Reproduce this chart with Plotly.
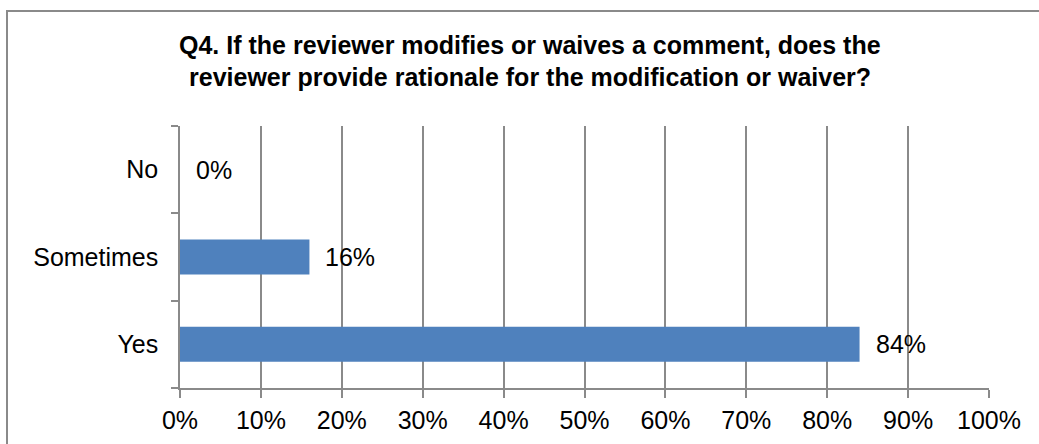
import plotly.graph_objects as go

categories = ["Yes", "Sometimes", "No"]
values = [84, 16, 0]
labels = ["84%", "16%", "0%"]
x_ticks = [0, 10, 20, 30, 40, 50, 60, 70, 80, 90, 100]
x_tick_labels = [f"{v}%" for v in x_ticks]
title_lines = ["Q4. If the reviewer modifies or waives a comment, does the",
               "reviewer provide rationale for the modification or waiver?"]

W, H = 1039, 444
L, R, T, B = 180, 50, 126, 56
pw, ph = W - L - R, H - T - B

def px_x(p):
    return (p - L) / pw

def px_y(p):
    return (H - B - p) / ph

font = "Liberation Sans, Arial, sans-serif"
grid = "#8a8a8a"

fig = go.Figure()
fig.add_trace(go.Bar(
    y=categories, x=values, orientation="h",
    marker=dict(color="#4F81BD", line=dict(width=0)),
    width=0.4,
    hoverinfo="skip",
))

for c, v, t in zip(categories, values, labels):
    fig.add_annotation(x=v, y=c, xref="x", yref="y", text=t, showarrow=False,
                       xanchor="left", xshift=14,
                       font=dict(family=font, size=25, color="black"))

for i, line in enumerate(title_lines):
    fig.add_annotation(x=px_x(530), y=px_y(45 + 32 * i), xref="paper", yref="paper",
                       text=f"<b>{line}</b>", showarrow=False,
                       xanchor="center", yanchor="middle",
                       font=dict(family=font, size=25, color="black"))

fig.add_shape(type="rect", xref="paper", yref="paper",
              x0=px_x(7), x1=px_x(1050), y0=px_y(460), y1=px_y(11),
              line=dict(color="#8a8a8a", width=2), fillcolor="rgba(0,0,0,0)",
              layer="below")

fig.update_layout(
    width=W, height=H,
    margin=dict(l=L, r=R, t=T, b=B, pad=0, autoexpand=False),
    paper_bgcolor="white", plot_bgcolor="white",
    showlegend=False,
    font=dict(family=font, size=25, color="black"),
    xaxis=dict(range=[0, 100], tickvals=x_ticks, ticktext=x_tick_labels,
               showgrid=True, gridcolor=grid, gridwidth=1.5,
               showline=True, linecolor=grid, linewidth=1.5,
               ticks="outside", ticklen=8, tickcolor=grid, tickwidth=1.5,
               ticklabelstandoff=1, zeroline=False, fixedrange=True,
               automargin=False),
    yaxis=dict(categoryorder="array", categoryarray=categories, range=[-0.5, 2.5],
               showgrid=False, showline=True, linecolor=grid, linewidth=1.5,
               ticks="outside", ticklen=7, tickcolor=grid, tickwidth=1.5,
               tickson="boundaries", ticklabelstandoff=15, zeroline=False,
               fixedrange=True, automargin=False),
)

fig.write_html("out.html")
